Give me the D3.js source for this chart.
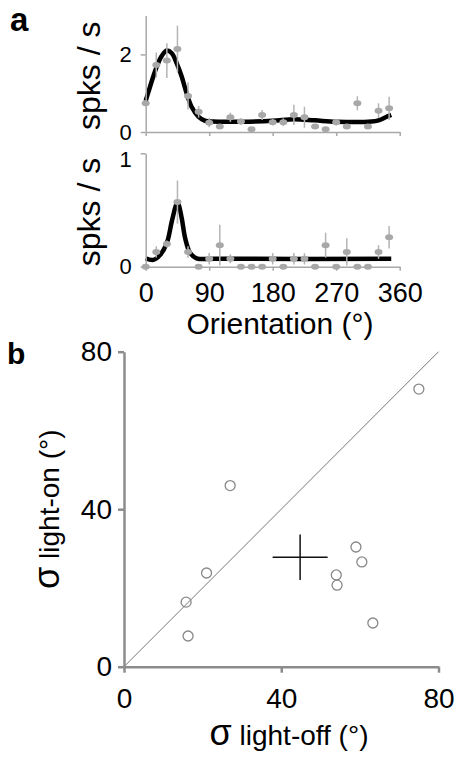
<!DOCTYPE html>
<html>
<head>
<meta charset="utf-8">
<script src="https://cdn.jsdelivr.net/npm/d3@7"></script>
<style>
  html, body { margin: 0; padding: 0; background: #fff; }
  svg { display: block; font-family: "Liberation Sans", Arial, sans-serif; }
</style>
</head>
<body>
<svg id="chart" width="456" height="758"></svg>
<script>
// ---- data ----

// panel a: orientation tuning, 15 deg steps
const angles = [0, 15, 30, 45, 60, 75, 90, 105, 120, 135, 150, 165,
  180, 195, 210, 225, 240, 255, 270, 285, 300, 315, 330, 345];

const ratesTop = [0.74, 1.73, 1.84, 2.14, 0.93, 0.52, 0.24, 0.14, 0.38, 0.27, 0.07, 0.44,
  0.25, 0.25, 0.44, 0.38, 0.14, 0.07, 0.25, 0.14, 0.74, 0.14, 0.55, 0.61];
const errTop = [0.05, 0.32, 0.45, 0.6, 0.35, 0.15, 0.12, 0.05, 0.12, 0.08, 0.05, 0.13,
  0.08, 0.1, 0.26, 0.27, 0.05, 0.05, 0.08, 0.05, 0.18, 0.05, 0.19, 0.3];

const ratesBottom = [0, 0.13, 0.2, 0.57, 0.13, 0, 0.07, 0.19, 0.07, 0, 0, 0,
  0.07, 0, 0.07, 0.07, 0, 0.19, 0, 0.13, 0, 0, 0.13, 0.26];
const errBottom = [0, 0.05, 0.03, 0.19, 0.05, 0, 0.05, 0.18, 0.04, 0, 0, 0,
  0.05, 0, 0.05, 0.05, 0, 0.11, 0, 0.12, 0, 0, 0.06, 0.1];

// fitted curves
const fitTopAngles = [0, 4, 13, 22, 30, 37, 44, 51, 58, 65, 75, 84, 95, 135, 180, 210, 240, 270, 320, 330, 340, 348];
const fitTopRates = [0.8, 1.04, 1.55, 1.94, 2.1, 2.03, 1.77, 1.43, 1.0, 0.65, 0.39, 0.29, 0.27, 0.265, 0.29, 0.33, 0.3, 0.265, 0.27, 0.3, 0.38, 0.44];

const fitBottomAngles = [0, 11, 20, 30, 37, 44, 45.5, 51, 56, 63, 72, 100, 348];
const fitBottomRates = [0.074, 0.06, 0.1, 0.21, 0.4, 0.56, 0.57, 0.43, 0.25, 0.12, 0.074, 0.07, 0.07];

const orientationTicks = [0, 90, 180, 270, 360];

// panel b: tuning width, light off vs light on
const sigmaOff = [75, 27, 59, 60.5, 54, 54.2, 63.3, 21, 15.8, 16.3];
const sigmaOn = [70.5, 46, 30.4, 26.6, 23.3, 20.7, 11.1, 23.8, 16.4, 7.8];
const meanOff = 44.8, semOff = 7;
const meanOn = 27.8, semOn = 5.75;
const sigmaTicks = [0, 40, 80];

// ---- drawing ----
const svg = d3.select('#chart');

const x = d3.scaleLinear().domain([0, 360]).range([145.7, 399.7]);
const yTop = d3.scaleLinear().domain([0, 3]).range([132, 15.6]);
const yBottom = d3.scaleLinear().domain([0, 1]).range([266.7, 153.3]);

function styleAxis(g, color, width) {
  g.select('.domain').attr('stroke', color).attr('stroke-width', width);
  g.selectAll('.tick line').attr('stroke', color).attr('stroke-width', width);
  g.selectAll('.tick text').attr('fill', '#000');
}

function tuningPanel(y, yTicks, rates, errs, fitAngles, fitRates, showXLabels) {
  const g = svg.append('g');

  // fitted curve under the dots
  const line = d3.line()
    .x((d, i) => x(fitAngles[i]))
    .y(d => y(d))
    .curve(d3.curveCatmullRom);
  g.append('path')
    .datum(fitRates)
    .attr('d', line)
    .attr('fill', 'none')
    .attr('stroke', '#000')
    .attr('stroke-width', 4.5)
    .attr('stroke-linejoin', 'round');

  // error bars
  g.selectAll('.err')
    .data(angles)
    .enter()
    .append('line')
    .attr('x1', d => x(d))
    .attr('x2', d => x(d))
    .attr('y1', (d, i) => y(rates[i] + errs[i]))
    .attr('y2', (d, i) => y(Math.max(0, rates[i] - errs[i])))
    .attr('stroke', '#b4b4b4')
    .attr('stroke-width', 1.5);

  // mean rates
  g.selectAll('.dot')
    .data(angles)
    .enter()
    .append('ellipse')
    .attr('cx', d => x(d))
    .attr('cy', (d, i) => y(rates[i]))
    .attr('rx', 4)
    .attr('ry', 3)
    .attr('fill', '#a8a8a8');

  const xAxis = d3.axisBottom(x)
    .tickValues(orientationTicks)
    .tickSize(4)
    .tickSizeOuter(0)
    .tickPadding(12)
    .tickFormat(showXLabels ? d3.format('d') : '');
  const gx = g.append('g')
    .attr('transform', `translate(0,${y(0)})`)
    .call(xAxis)
    .attr('font-size', 27)
    .attr('font-family', null);
  styleAxis(gx, '#a8a8a8', 1.5);

  const yAxis = d3.axisLeft(y)
    .tickValues(yTicks)
    .tickSize(5)
    .tickSizeOuter(0)
    .tickPadding(9)
    .tickFormat(d3.format('d'));
  const gy = g.append('g')
    .attr('transform', `translate(${x(0)},0)`)
    .call(yAxis)
    .attr('font-size', 22)
    .attr('font-family', null);
  styleAxis(gy, '#a8a8a8', 1.5);

  // the top label of the lower panel sits a little below its tick
  if (showXLabels) {
    gy.selectAll('.tick text').filter(d => d > 0).attr('dy', '0.62em');
  }

  // y title
  const [y0, y1] = y.range();
  g.append('text')
    .attr('transform', `translate(100,${(y0 + y1) / 2 + 2}) rotate(-90)`)
    .attr('text-anchor', 'middle')
    .attr('font-size', 32)
    .text('spks / s');
}

tuningPanel(yTop, [0, 2], ratesTop, errTop, fitTopAngles, fitTopRates, false);
tuningPanel(yBottom, [0, 1], ratesBottom, errBottom, fitBottomAngles, fitBottomRates, true);

svg.append('text')
  .attr('x', 280)
  .attr('y', 334)
  .attr('text-anchor', 'middle')
  .attr('font-size', 30)
  .text('Orientation (°)');

// ---- panel b ----
const sx = d3.scaleLinear().domain([0, 80]).range([124, 438.5]);
const sy = d3.scaleLinear().domain([0, 80]).range([666.7, 351.7]);

// unity line
svg.append('line')
  .attr('x1', sx(0)).attr('y1', sy(0))
  .attr('x2', sx(80)).attr('y2', sy(80))
  .attr('stroke', '#777')
  .attr('stroke-width', 1);

const bx = svg.append('g')
  .attr('transform', `translate(0,${sy(0)})`)
  .call(d3.axisBottom(sx).tickValues(sigmaTicks).tickSize(6).tickSizeOuter(0).tickPadding(15))
  .attr('font-size', 28)
  .attr('font-family', null);
styleAxis(bx, '#8c8c8c', 2.5);

const by = svg.append('g')
  .attr('transform', `translate(${sx(0)},0)`)
  .call(d3.axisLeft(sy).tickValues(sigmaTicks).tickSize(6).tickSizeOuter(0).tickPadding(6))
  .attr('font-size', 28)
  .attr('font-family', null);
styleAxis(by, '#8c8c8c', 2.5);

// individual cells
svg.selectAll('.cell')
  .data(sigmaOff)
  .enter()
  .append('circle')
  .attr('cx', d => sx(d))
  .attr('cy', (d, i) => sy(sigmaOn[i]))
  .attr('r', 5)
  .attr('fill', 'none')
  .attr('stroke', '#888')
  .attr('stroke-width', 1.3);

// mean +/- sem cross
svg.append('line')
  .attr('x1', sx(meanOff - semOff)).attr('x2', sx(meanOff + semOff))
  .attr('y1', sy(meanOn)).attr('y2', sy(meanOn))
  .attr('stroke', '#111').attr('stroke-width', 1.5);
svg.append('line')
  .attr('x1', sx(meanOff)).attr('x2', sx(meanOff))
  .attr('y1', sy(meanOn - semOn)).attr('y2', sy(meanOn + semOn))
  .attr('stroke', '#111').attr('stroke-width', 1.5);

// axis titles with a larger sigma
const xTitle = svg.append('text')
  .attr('x', 289)
  .attr('y', 745)
  .attr('text-anchor', 'middle')
  .attr('font-size', 28);
xTitle.append('tspan').attr('font-size', 36).text('σ');
xTitle.append('tspan').text(' light-off (°)');

const yTitle = svg.append('text')
  .attr('transform', `translate(59,${(sy(0) + sy(80)) / 2}) rotate(-90)`)
  .attr('text-anchor', 'middle')
  .attr('font-size', 28);
yTitle.append('tspan').attr('font-size', 36).text('σ');
yTitle.append('tspan').text(' light-on (°)');

// panel letters
svg.append('text').attr('x', 10).attr('y', 31).attr('font-size', 33).attr('font-weight', 'bold').text('a');
svg.append('text').attr('x', 7).attr('y', 364).attr('font-size', 30).attr('font-weight', 'bold').text('b');
</script>
</body>
</html>
